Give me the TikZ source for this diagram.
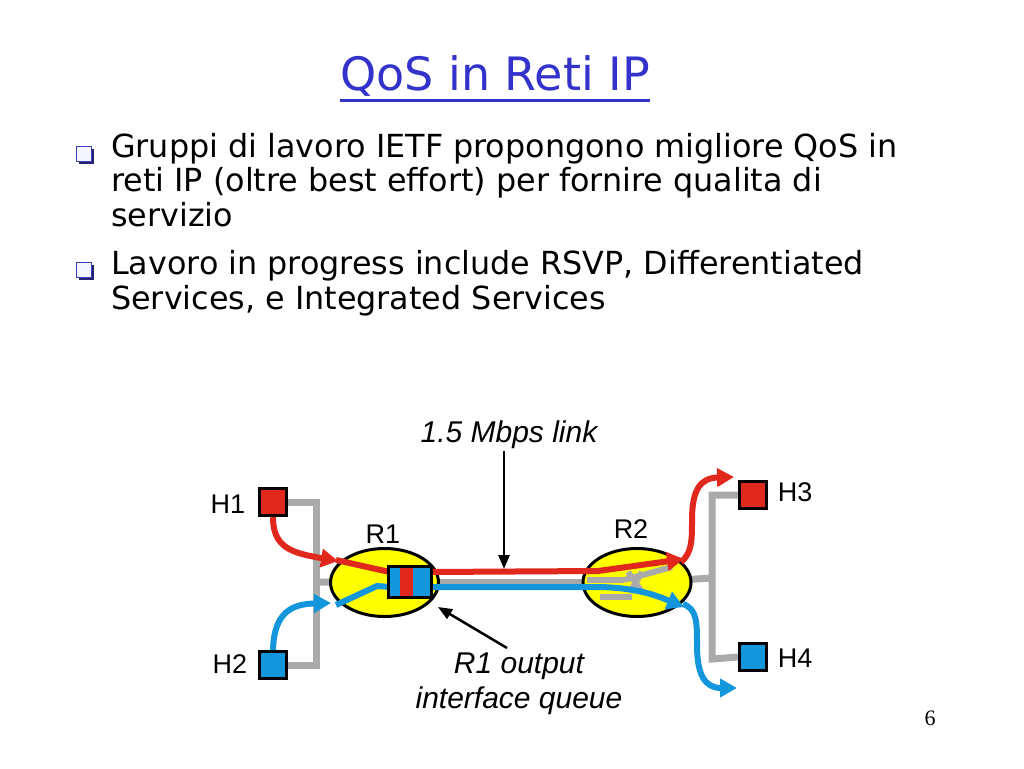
\documentclass[tikz,border=0pt]{standalone}
\usepackage{fontspec}
\setmainfont{DejaVu Sans}
\newfontfamily\arialf{Liberation Sans}
\newfontfamily\timesf{Liberation Serif}
\usetikzlibrary{arrows.meta,shapes.geometric,backgrounds,shadows}
\definecolor{qred}{RGB}{224,40,28}
\definecolor{qblue}{RGB}{20,150,220}
\definecolor{qgray}{RGB}{170,170,170}
\definecolor{qyellow}{RGB}{255,255,0}
\definecolor{qtitle}{RGB}{51,51,204}
\definecolor{qbullet}{RGB}{60,60,190}
\tikzset{
  host/.style={draw=black, line width=3pt, minimum size=27pt, inner sep=0pt},
  router/.style={ellipse, draw=black, line width=3pt, fill=qyellow, minimum width=108pt, minimum height=68pt, inner sep=0pt},
  gline/.style={qgray, line width=7pt},
  ginner/.style={qgray, line width=6pt},
  rline/.style={qred, line width=6pt},
  bline/.style={qblue, line width=6pt},
  flowtip/.style={-{Triangle[length=17pt,width=18pt]}},
  ptr/.style={black, line width=2.5pt, -{Triangle[length=14pt,width=11pt]}},
  lbl/.style={font=\arialf\fontsize{27}{30}\selectfont, inner sep=0pt},
  note/.style={font=\arialf\itshape\fontsize{30}{35}\selectfont, inner sep=0pt, align=center},
  body/.style={font=\fontsize{31.8}{36}\selectfont, anchor=base west, inner sep=0pt},
  bulletbox/.style={draw=qbullet, line width=1.6pt, fill=blue!4, minimum size=15pt, inner sep=0pt,
     drop shadow={shadow xshift=2.5pt, shadow yshift=-2.5pt, fill=qbullet!60!black, opacity=1}},
}
\begin{document}
\begin{tikzpicture}[x=1pt,y=-1pt]
\useasboundingbox (0,0) rectangle (1024,768);

% title
\node[anchor=base, inner sep=0pt, text=qtitle, font=\fontsize{46}{52}\selectfont] (title) at (495,90) {QoS in Reti IP};
\draw[qtitle, line width=3pt] ([yshift=-10pt]title.base west) -- ([yshift=-10pt]title.base east);

% bullets
\node[bulletbox] (b1) at (84,154) {};
\node[bulletbox] (b2) at (84,270) {};
\node[body] (t1) at (111,157) {Gruppi di lavoro IETF propongono migliore QoS in};
\node[body] (t2) at (111,191) {reti IP (oltre best effort) per fornire qualita di};
\node[body] (t3) at (111,226) {servizio};
\node[body] (t4) at (111,274) {Lavoro in progress include RSVP, Differentiated};
\node[body] (t5) at (111,309) {Services, e Integrated Services};

% hosts and routers
\node[host, fill=qred] (h1) at (273,502) {};
\node[host, fill=qblue] (h2) at (273,665) {};
\node[host, fill=qred] (h3) at (753,495) {};
\node[host, fill=qblue] (h4) at (753,657) {};
\node[router] (r1) at (384.5,582.5) {};
\node[router] (r2) at (637,582.5) {};

% gray wiring (behind)
\begin{scope}[on background layer]
\draw[gline] (h1.east) -- (316,502) -- (316,665) -- (h2.east);
\draw[gline] (316,582) -- (r1.center);
\draw[gline] (r1.center) -- (r2.center);
\draw[gline] (r2.center) -- (712,578);
\draw[gline] (h3.west) -- (712,495) -- (712,659) -- (h4.west);
\end{scope}

% gray inside R2 (crossing)
\draw[ginner] (587,580) -- (624,580);
\draw[ginner] (624,580) -- (672,567);
\draw[ginner] (628,572) -- (642,592);
\draw[ginner] (642,572) -- (630,592);
\draw[ginner] (600,597) -- (632,597);

% red flow
\draw[rline, flowtip] (h1.south) .. controls (273,548) and (292,553) .. (338,561);
\draw[rline] (336,560) -- (376,569) -- (390,572);
\draw[rline, flowtip] (430,572) -- (598,571) -- (684,559);
\draw[rline, flowtip] (681,562) .. controls (692,553) and (692,540) .. (692,520) .. controls (692,490) and (700,478) .. (734,477);

% blue flow
\draw[bline, flowtip] (h2.north) .. controls (274,612) and (292,604) .. (331,603);
\draw[bline] (336,605) -- (377,586) -- (390,587);
\draw[bline, flowtip] (430,587) -- (600,587) .. controls (640,588) and (660,597) .. (684,607);
\draw[bline, flowtip] (683,604) .. controls (697,609) and (697,622) .. (697,645) .. controls (697,675) and (705,688) .. (737,688);

% output queue
\fill[qblue] (388,566) rectangle (431,597);
\fill[qred] (400,566) rectangle (413,597);
\node[draw=black, line width=3pt, minimum width=43pt, minimum height=31pt, inner sep=0pt] (q) at (409.5,581.5) {};

% labels
\node[lbl] (lh1) at (228,504) {H1};
\node[lbl] (lh2) at (230,664) {H2};
\node[lbl] (lh3) at (795,492) {H3};
\node[lbl] (lh4) at (795,658) {H4};
\node[lbl] (lr1) at (383,534) {R1};
\node[lbl] (lr2) at (631,529) {R2};

\node[note, anchor=base] (linklabel) at (509,442) {1.5 Mbps link};
\draw[ptr] ([xshift=-5pt,yshift=-3pt]linklabel.south) -- (504,569);

\node[note, anchor=north] (outlabel) at (519,653) {R1 output\\interface queue};
\draw[ptr] ([xshift=-12pt,yshift=5pt]outlabel.north) -- (438,607);

% page number
\node[inner sep=0pt, font=\timesf\fontsize{22}{24}\selectfont] (pg) at (930,718) {6};
\end{tikzpicture}
\end{document}
